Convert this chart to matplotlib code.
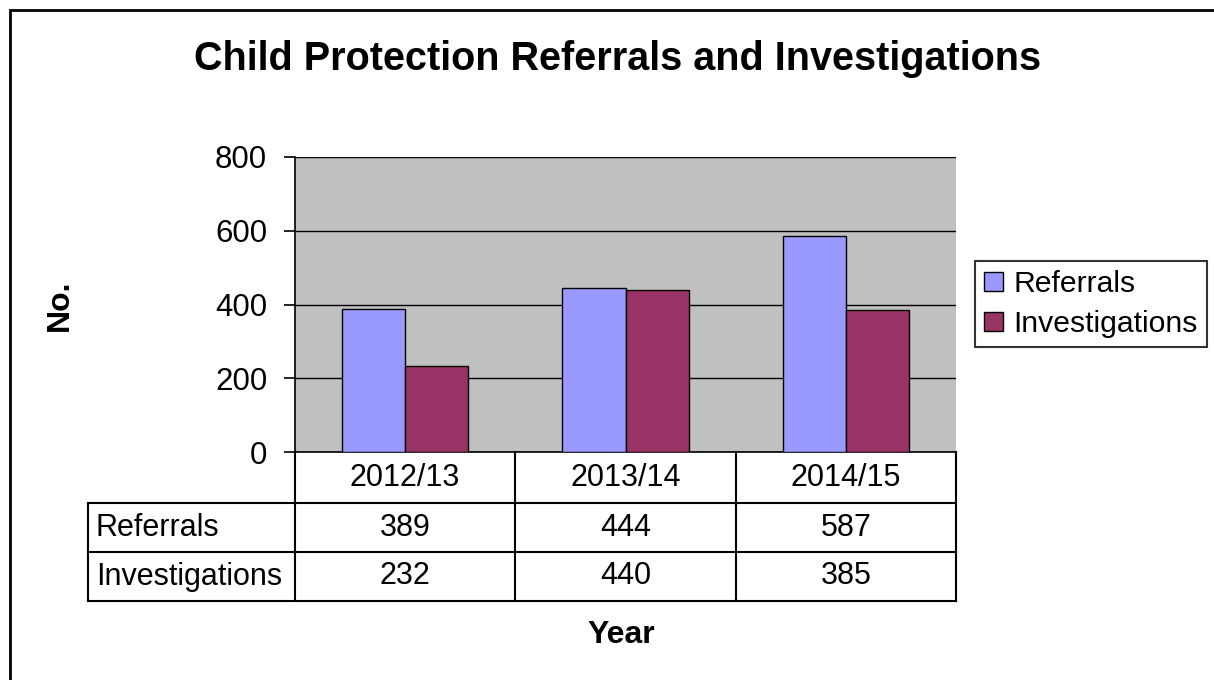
import numpy as np
import matplotlib
matplotlib.use('Agg')
import matplotlib.pyplot as plt
from matplotlib.patches import Rectangle

plt.rcParams['font.family'] = ['Liberation Sans', 'DejaVu Sans']

years = ['2012/13', '2013/14', '2014/15']
referrals = [389, 444, 587]
investigations = [232, 440, 385]
series_names = ['Referrals', 'Investigations']
colors = ['#9999FF', '#993366']

W, H = 1214, 680
fig = plt.figure(figsize=(W / 100, H / 100), dpi=100)

# outer chart border
fig.patches.append(Rectangle((10 / W, -0.05), 1.2, (H - 10) / H + 0.05, transform=fig.transFigure,
                             fill=False, edgecolor='black', linewidth=2))

ax_l, ax_r, ax_t, ax_b = 295, 956, 157, 452
ax = fig.add_axes([ax_l / W, (H - ax_b) / H, (ax_r - ax_l) / W, (ax_b - ax_t) / H])
ax.set_facecolor('#C0C0C0')

x = np.arange(len(years))
bw = 0.286
ax.bar(x - bw / 2, referrals, bw, color=colors[0], edgecolor='black', linewidth=1, label=series_names[0], zorder=3)
ax.bar(x + bw / 2, investigations, bw, color=colors[1], edgecolor='black', linewidth=1, label=series_names[1], zorder=3)

ax.set_xlim(-0.5, len(years) - 0.5)
ax.set_ylim(0, 800)
ax.set_yticks([0, 200, 400, 600, 800])
ax.yaxis.grid(True, color='black', linewidth=1, zorder=1)
ax.set_xticks([])
ax.tick_params(axis='y', labelsize=22.5, length=8, width=1.2, pad=12)
for s in ['top', 'right']:
    ax.spines[s].set_visible(False)
ax.spines['left'].set_linewidth(1.2)
ax.spines['bottom'].set_linewidth(1.2)

# data table below the axes
row_h = 49 / (ax_b - ax_t)   # in axes fraction
hdr_h = 51 / (ax_b - ax_t)
lab_l = (88 - ax_l) / (ax_r - ax_l)
tr = ax.transAxes
y0 = 0
y1 = -hdr_h
y2 = y1 - row_h
y3 = y2 - row_h
kw = dict(transform=tr, color='black', linewidth=1.5, clip_on=False)
ax.plot([lab_l, 1], [y1, y1], **kw)
ax.plot([lab_l, 1], [y2, y2], **kw)
ax.plot([lab_l, 1], [y3, y3], **kw)
ax.plot([lab_l, lab_l], [y1, y3], **kw)
for i in range(len(years) + 1):
    xv = i / len(years)
    ax.plot([xv, xv], [y0, y3], **kw)

fs = 22
for i, yr in enumerate(years):
    xc = (i + 0.5) / len(years)
    ax.text(xc, (y0 + y1) / 2, yr, transform=tr, ha='center', va='center', fontsize=fs)
    ax.text(xc, (y1 + y2) / 2, str(referrals[i]), transform=tr, ha='center', va='center', fontsize=fs)
    ax.text(xc, (y2 + y3) / 2, str(investigations[i]), transform=tr, ha='center', va='center', fontsize=fs)
pad = 8 / (ax_r - ax_l)
ax.text(lab_l + pad, (y1 + y2) / 2, series_names[0], transform=tr, ha='left', va='center', fontsize=fs)
ax.text(lab_l + pad, (y2 + y3) / 2, series_names[1], transform=tr, ha='left', va='center', fontsize=fs)

fig.text(618 / W, 1 - 59 / H, 'Child Protection Referrals and Investigations', ha='center', va='center',
         fontsize=28.5, fontweight='bold')
fig.text(60 / W, 1 - 305 / H, 'No.', ha='center', va='center', rotation=90, fontsize=23, fontweight='bold')
fig.text(621 / W, 1 - 635 / H, 'Year', ha='center', va='center', fontsize=23, fontweight='bold')

leg = fig.legend(loc='center left', bbox_to_anchor=(975 / W, 1 - 304 / H), fontsize=21.7, frameon=True,
                 fancybox=False, edgecolor='black', handlelength=0.62, handleheight=0.62,
                 handletextpad=0.35, borderpad=0.3, labelspacing=0.4, borderaxespad=0)
leg.get_frame().set_linewidth(1.5)

fig.savefig('out.png', dpi=100, facecolor='white')
